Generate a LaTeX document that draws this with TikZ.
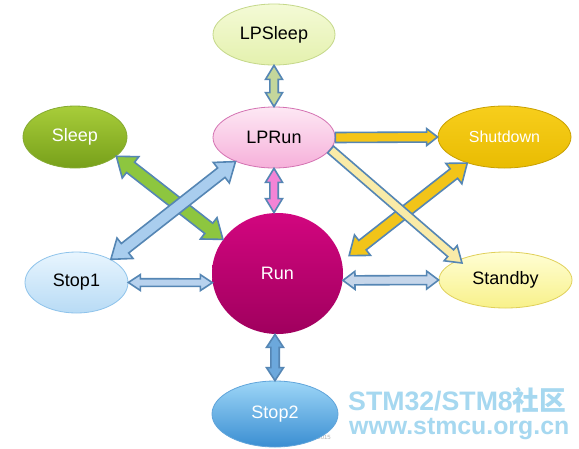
\documentclass[tikz,border=0pt]{standalone}
\usepackage{fontspec}
\setmainfont{Liberation Sans}
\newfontfamily\cjk{Noto Sans CJK SC}
\usetikzlibrary{shapes.geometric,calc}
\definecolor{lpsleepT}{HTML}{F4FAD6}
\definecolor{lpsleepB}{HTML}{E4F1AE}
\definecolor{lpsleepD}{HTML}{C5D88A}
\definecolor{lprunT}{HTML}{FDE8F4}
\definecolor{lprunB}{HTML}{F6B0DA}
\definecolor{lprunD}{HTML}{D472B2}
\definecolor{sleepT}{HTML}{A8CD3A}
\definecolor{sleepB}{HTML}{77A01A}
\definecolor{stopaT}{HTML}{E8F5FE}
\definecolor{stopaB}{HTML}{B8DBF5}
\definecolor{stopaD}{HTML}{8EC3EB}
\definecolor{runT}{HTML}{D2067F}
\definecolor{runB}{HTML}{A0005E}
\definecolor{shutT}{HTML}{F7CE1C}
\definecolor{shutB}{HTML}{E9BC02}
\definecolor{shutD}{HTML}{C9A000}
\definecolor{standT}{HTML}{FFFED4}
\definecolor{standB}{HTML}{F8F18A}
\definecolor{standD}{HTML}{E0D05A}
\definecolor{stopbT}{HTML}{9DD6F7}
\definecolor{stopbB}{HTML}{3A8ED2}
\definecolor{arrowline}{HTML}{5586B4}
\definecolor{aLPS}{HTML}{C4D79B}
\definecolor{aPink}{HTML}{F384D6}
\definecolor{aGreen}{HTML}{8DC63F}
\definecolor{aBlueA}{HTML}{A9CDEE}
\definecolor{aBlueB}{HTML}{B8D2EE}
\definecolor{aBlueC}{HTML}{6CA8DC}
\definecolor{aGoldA}{HTML}{F5C518}
\definecolor{aGoldB}{HTML}{F2C419}
\definecolor{aPale}{HTML}{F9EBA8}
\definecolor{aGray}{HTML}{C6D6EA}
\definecolor{wm}{HTML}{A6D8F0}
\tikzset{
  state/.style={ellipse, inner sep=0pt, line width=0.8pt, font=\fontsize{18}{21}\selectfont},
  blockarrow/.style={draw=arrowline, line width=1.6pt, line join=miter}
}
% #1 A, #2 B, #3 fill, #4 shaft half width, #5 head half width, #6 head length
\newcommand{\dblarrow}[6]{%
  \coordinate (tmpa) at ($(#1)!#6!(#2)$);
  \coordinate (tmpb) at ($(#2)!#6!(#1)$);
  \filldraw[blockarrow, fill=#3] (#1) -- ($(tmpa)!#5!90:(#2)$) -- ($(tmpa)!#4!90:(#2)$)
    -- ($(tmpb)!#4!-90:(#1)$) -- ($(tmpb)!#5!-90:(#1)$) -- (#2)
    -- ($(tmpb)!#5!90:(#1)$) -- ($(tmpb)!#4!90:(#1)$)
    -- ($(tmpa)!#4!-90:(#2)$) -- ($(tmpa)!#5!-90:(#2)$) -- cycle;
}
\newcommand{\sglarrow}[6]{%
  \coordinate (tmpb) at ($(#2)!#6!(#1)$);
  \filldraw[blockarrow, fill=#3] ($(#1)!#4!-90:(#2)$) -- ($(tmpb)!#4!90:(#1)$)
    -- ($(tmpb)!#5!90:(#1)$) -- (#2) -- ($(tmpb)!#5!-90:(#1)$)
    -- ($(tmpb)!#4!-90:(#1)$) -- ($(#1)!#4!90:(#2)$) -- cycle;
}
\begin{document}
\begin{tikzpicture}[x=1pt,y=-1pt]
\useasboundingbox (0,0) rectangle (579,448);
\fill[white] (0,0) rectangle (579,448);
% footer date
\node[anchor=east, inner sep=0pt, text=black!30, font=\fontsize{6}{7}\selectfont] (date) at (331,437) {1/2015};
% states
\node[state, minimum width=122pt, minimum height=61pt, top color=lpsleepT, bottom color=lpsleepB, draw=lpsleepD] (lpsleep) at (274,34.5) {LPSleep};
\node[state, minimum width=122pt, minimum height=61pt, top color=lprunT, bottom color=lprunB, draw=lprunD] (lprun) at (274,137.5) {LPRun};
\node[state, minimum width=104pt, minimum height=62pt, top color=sleepT, bottom color=sleepB, draw=sleepB!90!white, text=white] (sleep) at (75,137) {Sleep};
\node[state, minimum width=103pt, minimum height=61pt, top color=stopaT, bottom color=stopaB, draw=stopaD] (stop1) at (76.5,282.5) {Stop1};
\node[state, minimum width=131pt, minimum height=121pt, top color=runT, bottom color=runB, text=white] (run) at (277.5,273.5) {Run};
\node[state, minimum width=133pt, minimum height=62pt, top color=shutT, bottom color=shutB, draw=shutD, font=\fontsize{16}{19}\selectfont, text=white] (shutdown) at (504.5,137) {Shutdown};
\node[state, minimum width=133pt, minimum height=56pt, top color=standT, bottom color=standB, draw=standD] (standby) at (505.5,280) {Standby};
\node[state, minimum width=126pt, minimum height=66pt, top color=stopbT, bottom color=stopbB, draw=stopbB!80!white, text=white] (stop2) at (275,414) {Stop2};
% connectors
\dblarrow{lpsleep.south}{lprun.north}{aLPS}{4.2pt}{8.5pt}{14pt}
\coordinate (runtop) at (lprun.south |- run.north);
\dblarrow{lprun.south}{runtop}{aPink}{4.2pt}{8.5pt}{14pt}
\dblarrow{sleep.-25}{run.148}{aGreen}{6.5pt}{13.5pt}{18pt}
\dblarrow{stop1.34}{lprun.212}{aBlueA}{6pt}{13pt}{18pt}
\dblarrow{stop1.east}{run.188}{aBlueB}{3.8pt}{8pt}{12pt}
\coordinate (runbot) at (stop2.north |- run.south);
\dblarrow{runbot}{stop2.north}{aBlueC}{4.2pt}{8.5pt}{13pt}
\sglarrow{lprun.east}{shutdown.west}{aGoldA}{5pt}{8.5pt}{11pt}
\coordinate (runne) at ($(run.14)+(8,-2)$);
\dblarrow{shutdown.215}{runne}{aGoldB}{6pt}{13pt}{17pt}
\coordinate (standnw) at ($(standby.center)+(-43.5,-17)$);
\sglarrow{lprun.-12}{standnw}{aPale}{4.5pt}{10pt}{15pt}
\dblarrow{run.-6}{standby.west}{aGray}{4.5pt}{9pt}{12pt}
% watermark
\node[anchor=base west, inner sep=0pt, text=wm] (wma) at (348,410) {\resizebox{218pt}{!}{\bfseries STM32/STM8\cjk\bfseries 社区}};
\node[anchor=base west, inner sep=0pt, text=wm] (wmb) at (349,434) {\resizebox{220pt}{!}{\bfseries www.stmcu.org.cn}};
\end{tikzpicture}
\end{document}
